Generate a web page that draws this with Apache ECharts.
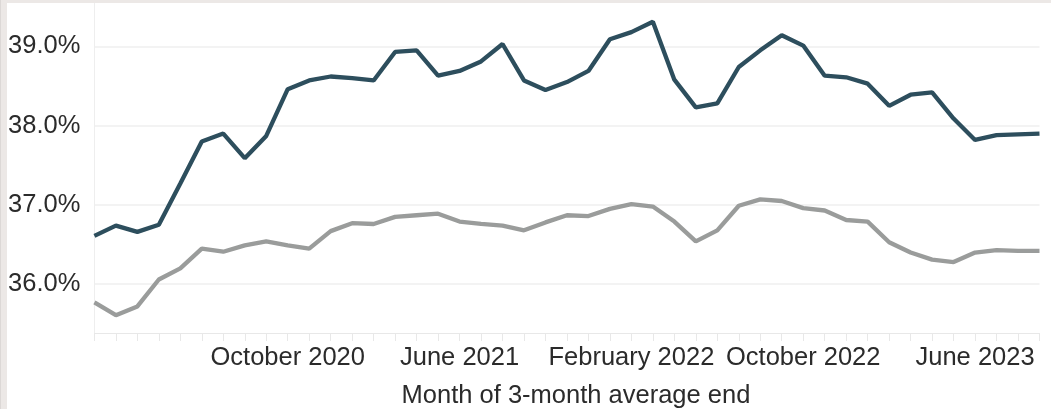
<!DOCTYPE html>
<html>
<head>
<meta charset="utf-8">
<script src="https://cdn.jsdelivr.net/npm/echarts@6/dist/echarts.min.js"></script>
<style>
  html, body { margin: 0; padding: 0; }
  body { width: 1051px; height: 409px; background: #ece8e6; position: relative; overflow: hidden; }
  #frameEdge { position: absolute; left: 0; top: 0; width: 1px; height: 409px; background: #dcd8d6; }
  #chart { position: absolute; left: 7px; top: 3px; width: 1044px; height: 406px; background: #ffffff; }
</style>
</head>
<body>
<div id="frameEdge"></div>
<div id="chart"></div>
<script>
// Months from January 2020 to September 2023 (end month of each 3-month average)
const monthNames = ['January', 'February', 'March', 'April', 'May', 'June', 'July',
  'August', 'September', 'October', 'November', 'December'];
const months = [];
for (let i = 0; i < 45; i++) {
  months.push(monthNames[i % 12] + ' ' + (2020 + Math.floor(i / 12)));
}

// Upper series (dark line), percent
const upperSeries = [
  36.61, 36.74, 36.66, 36.75, 37.27, 37.80, 37.90, 37.59, 37.87,
  38.46, 38.57, 38.62, 38.60, 38.57, 38.93, 38.95, 38.63, 38.69,
  38.81, 39.03, 38.57, 38.45, 38.55, 38.69, 39.09, 39.18, 39.31,
  38.58, 38.23, 38.28, 38.74, 38.95, 39.14, 39.01, 38.63, 38.61,
  38.53, 38.25, 38.39, 38.42, 38.09, 37.82, 37.88, 37.89, 37.90
];

// Lower series (grey line), percent
const lowerSeries = [
  35.77, 35.61, 35.72, 36.06, 36.20, 36.45, 36.41, 36.49, 36.54,
  36.49, 36.45, 36.67, 36.77, 36.76, 36.85, 36.87, 36.89, 36.79,
  36.76, 36.74, 36.68, 36.78, 36.87, 36.86, 36.95, 37.01, 36.98,
  36.79, 36.54, 36.68, 36.99, 37.07, 37.05, 36.96, 36.93, 36.81,
  36.79, 36.53, 36.40, 36.31, 36.28, 36.40, 36.43, 36.42, 36.42
];

// Labelled months: every eighth month starting at October 2020
const firstLabelIndex = 9;
const labelStep = 8;

const yMin = 35.385;
const yMax = 39.547;

const textColor = '#2b2b2b';
const fontFamily = '"Liberation Sans", Arial, sans-serif';
const fontSize = 25.5;

const chart = echarts.init(document.getElementById('chart'), null, { renderer: 'canvas' });

chart.setOption({
  animation: false,
  backgroundColor: '#ffffff',
  grid: { left: 87.4, right: 11.5, top: 0, bottom: 76, outerBoundsMode: 'none', containLabel: false },
  xAxis: {
    type: 'category',
    data: months,
    boundaryGap: false,
    name: 'Month of 3-month average end',
    nameLocation: 'middle',
    nameGap: 50,
    nameTextStyle: {
      color: textColor,
      fontSize: fontSize,
      fontFamily: fontFamily,
      padding: [0, 0, 0, 18]
    },
    axisLine: { show: true, lineStyle: { color: '#e8e8e8', width: 1 } },
    axisTick: {
      show: true,
      interval: 0,
      length: 8,
      lineStyle: { color: '#e8e8e8', width: 1 }
    },
    axisLabel: {
      interval: function (i) { return i >= firstLabelIndex && (i - firstLabelIndex) % labelStep === 0; },
      color: textColor,
      fontSize: fontSize,
      fontFamily: fontFamily,
      margin: 12
    },
    splitLine: { show: false }
  },
  yAxis: {
    type: 'value',
    min: yMin,
    max: yMax,
    splitNumber: 4,
    axisLine: { show: true, lineStyle: { color: '#eeeeee', width: 1 } },
    axisTick: { show: false },
    axisLabel: {
      showMinLabel: false,
      showMaxLabel: false,
      color: textColor,
      fontSize: fontSize,
      fontFamily: fontFamily,
      margin: 14,
      formatter: function (v) { return v.toFixed(1) + '%'; }
    },
    splitLine: {
      show: true,
      showMinLine: false,
      showMaxLine: false,
      lineStyle: { color: '#efefef', width: 1.5 }
    }
  },
  series: [
    {
      type: 'line',
      data: lowerSeries,
      symbol: 'none',
      lineStyle: { color: '#9a9c9b', width: 4.3 },
      itemStyle: { color: '#9a9c9b' }
    },
    {
      type: 'line',
      data: upperSeries,
      symbol: 'none',
      lineStyle: { color: '#2d4e5d', width: 4.3 },
      itemStyle: { color: '#2d4e5d' }
    }
  ]
});
</script>
</body>
</html>
